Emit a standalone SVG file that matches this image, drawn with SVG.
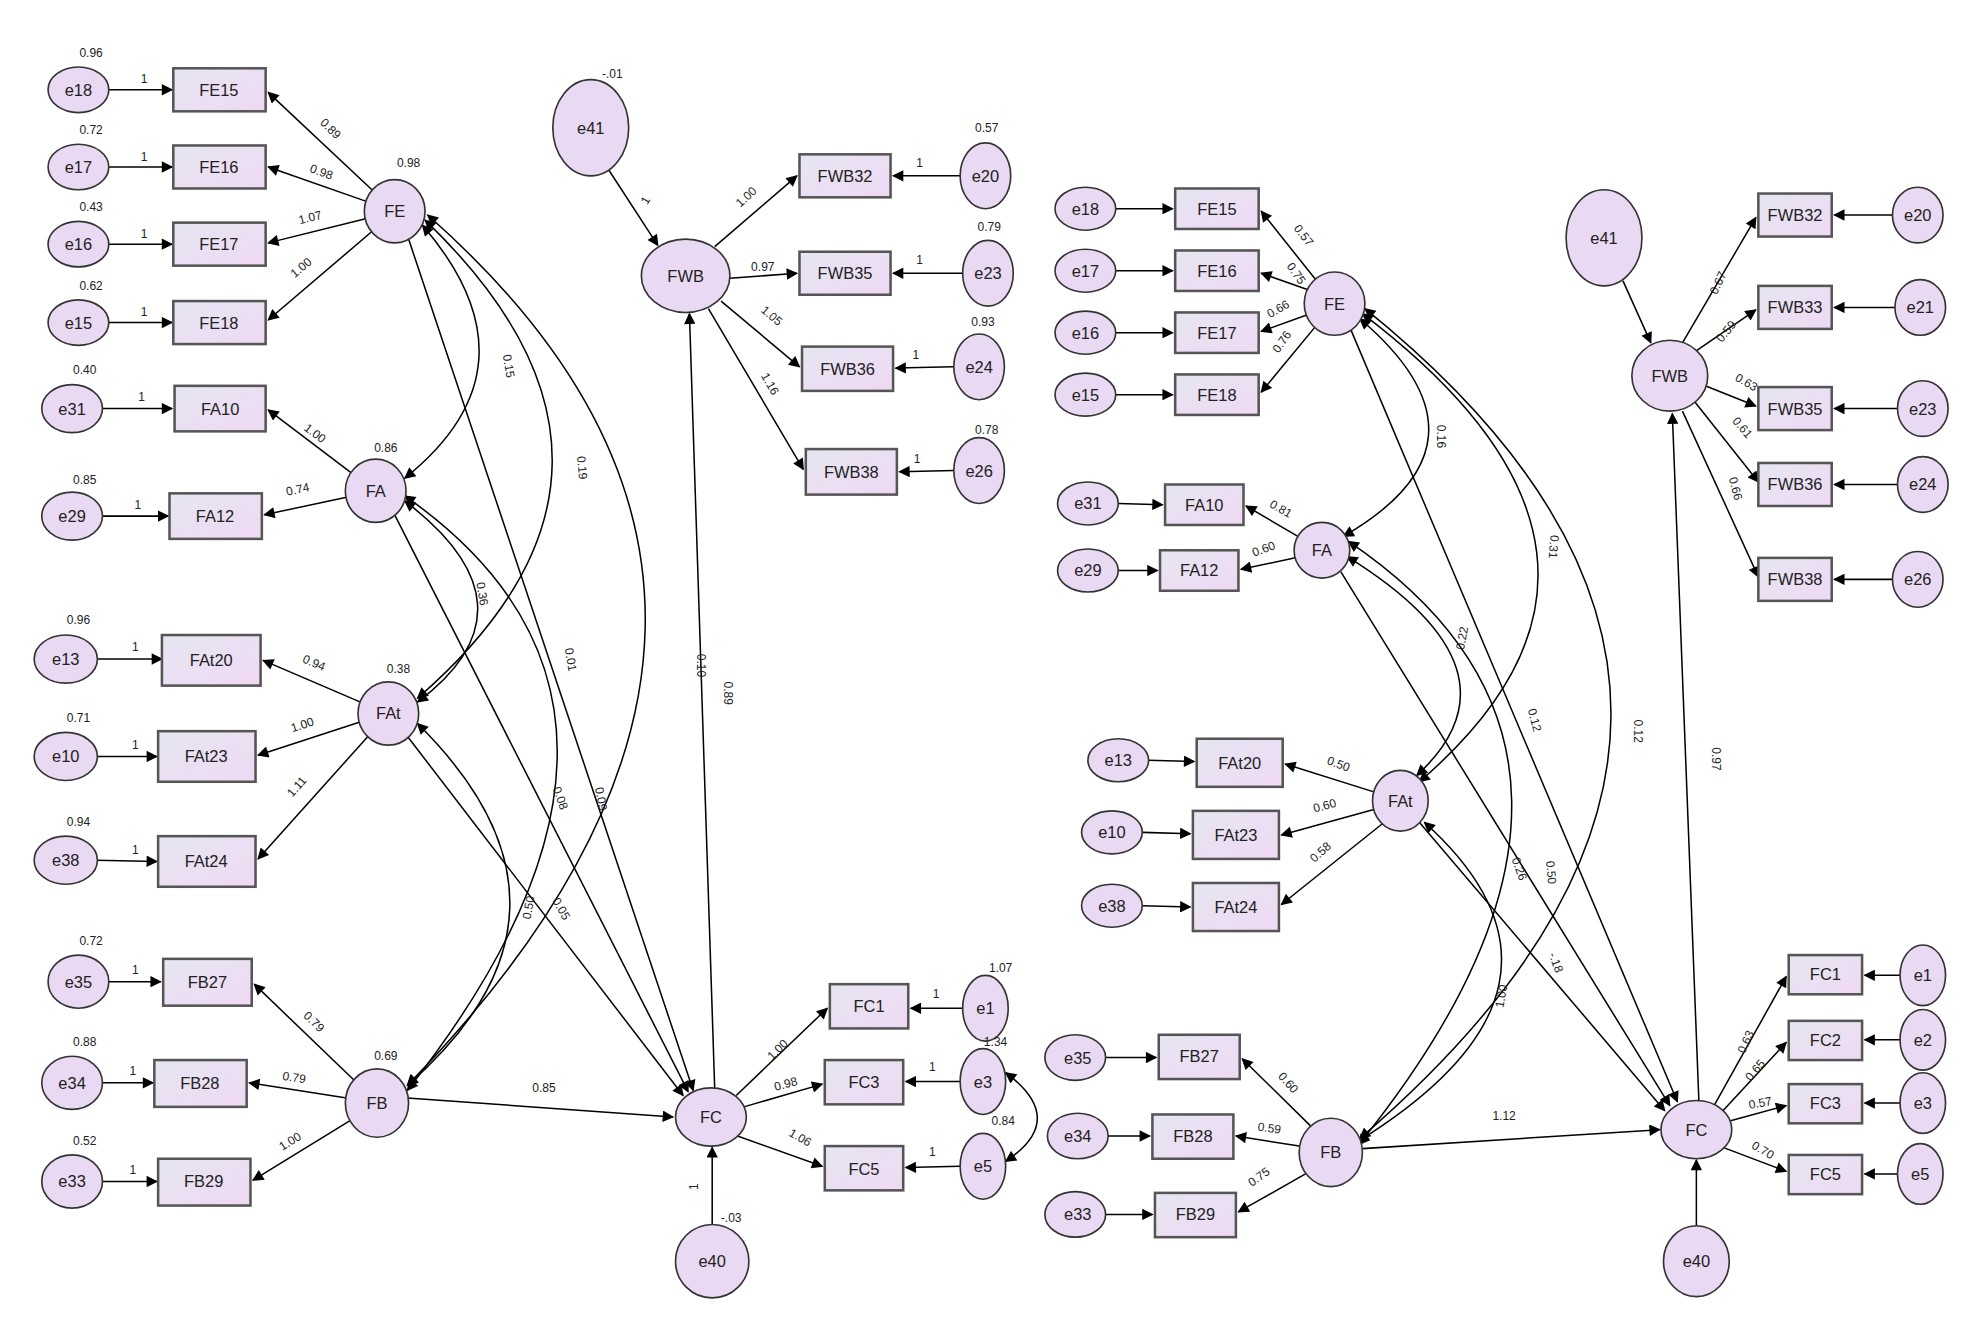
<svg xmlns="http://www.w3.org/2000/svg" width="1973" height="1325" viewBox="0 0 1973 1325">
<defs>
<marker id="ah" viewBox="0 0 10 10" refX="9" refY="5" markerWidth="11" markerHeight="9" markerUnits="userSpaceOnUse" orient="auto-start-reverse"><path d="M0,0 L10,5 L0,10 z" fill="#000"/></marker>
<linearGradient id="rg" x1="0" y1="0" x2="1" y2="1"><stop offset="0" stop-color="#e6e6f2"/><stop offset="1" stop-color="#efd9f3"/></linearGradient>
</defs>
<style>
.n ellipse{fill:#ead9f2;stroke:#333;stroke-width:1.3}
.n rect{fill:url(#rg);stroke:#555;stroke-width:2}
.n text{font-family:"Liberation Sans",Arial,sans-serif;font-size:13px;text-anchor:middle;dominant-baseline:central;fill:#222}
.c line,.c path{stroke:#000;stroke-width:1.2;fill:none;marker-end:url(#ah)}
.c .d{marker-start:url(#ah)}
.l{font-family:"Liberation Sans",Arial,sans-serif;font-size:9.5px;fill:#222;text-anchor:middle}
</style>
<rect width="1973" height="1325" fill="#fff"/>
<g transform="scale(1.265)">
<g class="c" id="connectors">
<!-- LEFT -->
<line x1="86" y1="71" x2="136" y2="71"/><line x1="86" y1="132" x2="136" y2="132"/><line x1="86" y1="193" x2="136" y2="193"/><line x1="86" y1="255" x2="136" y2="255"/>
<line x1="81" y1="323" x2="136" y2="323"/><line x1="81" y1="408" x2="133" y2="408"/>
<line x1="76" y1="521" x2="128" y2="521"/><line x1="76" y1="598" x2="124" y2="598"/><line x1="76" y1="680" x2="124" y2="681"/>
<line x1="86" y1="776" x2="127" y2="776"/><line x1="81" y1="856" x2="121" y2="856"/><line x1="81" y1="934" x2="124" y2="934"/>
<line x1="294" y1="150" x2="212" y2="73"/><line x1="289" y1="159" x2="212" y2="132"/><line x1="289" y1="173" x2="212" y2="192"/><line x1="294" y1="183" x2="212" y2="253"/>
<line x1="278" y1="374" x2="212" y2="324"/><line x1="274" y1="393" x2="209" y2="407"/>
<line x1="285" y1="555" x2="208" y2="522"/><line x1="284" y1="571" x2="204" y2="597"/><line x1="291" y1="582" x2="204" y2="679"/>
<line x1="281" y1="855" x2="201" y2="778"/><line x1="274" y1="868" x2="197" y2="856"/><line x1="278" y1="885" x2="200" y2="933"/>
<line x1="565" y1="195" x2="630" y2="139"/><line x1="577" y1="220" x2="630" y2="216"/><line x1="570" y1="238" x2="632" y2="290"/><line x1="560" y1="244" x2="635" y2="371"/>
<line x1="759" y1="139" x2="706" y2="139"/><line x1="761" y1="216" x2="706" y2="216"/><line x1="754" y1="290" x2="708" y2="291"/><line x1="754" y1="372" x2="711" y2="373"/>
<line x1="481" y1="134" x2="520" y2="194"/>
<line x1="582" y1="866" x2="654" y2="797"/><line x1="588" y1="875" x2="650" y2="857"/><line x1="583" y1="898" x2="650" y2="922"/>
<line x1="761" y1="797" x2="720" y2="797"/><line x1="759" y1="855" x2="716" y2="855"/><line x1="759" y1="922" x2="716" y2="923"/>
<line x1="563" y1="968" x2="563" y2="907"/>
<line x1="565" y1="861" x2="545" y2="248"/>
<line x1="322" y1="868" x2="532" y2="883"/>
<line x1="323" y1="189" x2="548" y2="862"/>
<line x1="312" y1="407" x2="544" y2="863"/>
<line x1="322" y1="582" x2="540" y2="866"/>
<path class="d" d="M795,848 Q845,885 795,918"/>
<path class="d" d="M334,178 Q430,290 320,378"/>
<path class="d" d="M336,174 Q540,370 330,552"/>
<path class="d" d="M338,170 Q690,480 322,858"/>
<path class="d" d="M320,396 Q430,480 330,555"/>
<path class="d" d="M320,392 Q560,560 322,862"/>
<path class="d" d="M330,572 Q480,720 322,858"/>
<!-- RIGHT -->
<line x1="882" y1="165" x2="927" y2="165"/><line x1="882" y1="214" x2="927" y2="214"/><line x1="882" y1="263" x2="927" y2="263"/><line x1="882" y1="312" x2="927" y2="312"/>
<line x1="884" y1="398" x2="919" y2="399"/><line x1="884" y1="451" x2="915" y2="451"/>
<line x1="908" y1="601" x2="944" y2="602"/><line x1="903" y1="658" x2="941" y2="659"/><line x1="903" y1="716" x2="941" y2="717"/>
<line x1="874" y1="836" x2="914" y2="836"/><line x1="876" y1="898" x2="909" y2="898"/><line x1="874" y1="960" x2="911" y2="960"/>
<line x1="1040" y1="221" x2="997" y2="167"/><line x1="1034" y1="229" x2="997" y2="216"/><line x1="1033" y1="249" x2="997" y2="262"/><line x1="1040" y1="258" x2="997" y2="310"/>
<line x1="1026" y1="424" x2="985" y2="400"/><line x1="1024" y1="441" x2="981" y2="450"/>
<line x1="1086" y1="626" x2="1016" y2="604"/><line x1="1086" y1="640" x2="1013" y2="660"/><line x1="1093" y1="651" x2="1013" y2="715"/>
<line x1="1036" y1="890" x2="982" y2="837"/><line x1="1027" y1="906" x2="977" y2="898"/><line x1="1032" y1="928" x2="979" y2="958"/>
<line x1="1077" y1="908" x2="1312" y2="893"/>
<line x1="1341" y1="969" x2="1341" y2="917"/>
<line x1="1355" y1="874" x2="1412" y2="772"/><line x1="1362" y1="878" x2="1412" y2="824"/><line x1="1368" y1="886" x2="1412" y2="874"/><line x1="1362" y1="907" x2="1412" y2="926"/>
<line x1="1502" y1="771" x2="1474" y2="771"/><line x1="1502" y1="822" x2="1474" y2="822"/><line x1="1502" y1="872" x2="1474" y2="872"/><line x1="1500" y1="928" x2="1474" y2="928"/>
<line x1="1343" y1="871" x2="1322" y2="327"/>
<line x1="1283" y1="222" x2="1305" y2="271"/>
<line x1="1330" y1="271" x2="1388" y2="172"/><line x1="1340" y1="278" x2="1388" y2="245"/><line x1="1348" y1="305" x2="1388" y2="321"/><line x1="1340" y1="318" x2="1390" y2="381"/><line x1="1330" y1="325" x2="1390" y2="456"/>
<line x1="1496" y1="170" x2="1450" y2="170"/><line x1="1498" y1="243" x2="1450" y2="243"/><line x1="1500" y1="323" x2="1450" y2="323"/><line x1="1500" y1="383" x2="1450" y2="383"/><line x1="1496" y1="458" x2="1450" y2="458"/>
<line x1="1068" y1="261" x2="1326" y2="871"/>
<line x1="1060" y1="452" x2="1320" y2="874"/>
<line x1="1122" y1="650" x2="1316" y2="878"/>
<path class="d" d="M1075,252 Q1190,350 1062,424"/>
<path class="d" d="M1077,248 Q1330,440 1122,618"/>
<path class="d" d="M1079,244 Q1470,560 1075,900"/>
<path class="d" d="M1065,440 Q1210,530 1120,613"/>
<path class="d" d="M1066,428 Q1320,600 1074,905"/>
<path class="d" d="M1126,650 Q1270,780 1074,902"/>
</g>
<!-- LEFT NODES -->
<g class="n" id="L_e18"><ellipse cx="62" cy="71" rx="24" ry="18"/><text x="62" y="71">e18</text></g>
<g class="n" id="L_e17"><ellipse cx="62" cy="132" rx="24" ry="18"/><text x="62" y="132">e17</text></g>
<g class="n" id="L_e16"><ellipse cx="62" cy="193" rx="24" ry="18"/><text x="62" y="193">e16</text></g>
<g class="n" id="L_e15"><ellipse cx="62" cy="255" rx="24" ry="18"/><text x="62" y="255">e15</text></g>
<g class="n" id="L_e31"><ellipse cx="57" cy="323" rx="24" ry="19"/><text x="57" y="323">e31</text></g>
<g class="n" id="L_e29"><ellipse cx="57" cy="408" rx="24" ry="19"/><text x="57" y="408">e29</text></g>
<g class="n" id="L_e13"><ellipse cx="52" cy="521" rx="25" ry="19"/><text x="52" y="521">e13</text></g>
<g class="n" id="L_e10"><ellipse cx="52" cy="598" rx="25" ry="19"/><text x="52" y="598">e10</text></g>
<g class="n" id="L_e38"><ellipse cx="52" cy="680" rx="25" ry="19"/><text x="52" y="680">e38</text></g>
<g class="n" id="L_e35"><ellipse cx="62" cy="776" rx="24" ry="21"/><text x="62" y="776">e35</text></g>
<g class="n" id="L_e34"><ellipse cx="57" cy="856" rx="24" ry="21"/><text x="57" y="856">e34</text></g>
<g class="n" id="L_e33"><ellipse cx="57" cy="934" rx="24" ry="21"/><text x="57" y="934">e33</text></g>
<g class="n" id="L_FE15"><rect x="137" y="54" width="73" height="34"/><text x="173" y="71">FE15</text></g>
<g class="n" id="L_FE16"><rect x="137" y="115" width="73" height="34"/><text x="173" y="132">FE16</text></g>
<g class="n" id="L_FE17"><rect x="137" y="176" width="73" height="34"/><text x="173" y="193">FE17</text></g>
<g class="n" id="L_FE18"><rect x="137" y="238" width="73" height="34"/><text x="173" y="255">FE18</text></g>
<g class="n" id="L_FA10"><rect x="138" y="305" width="72" height="36"/><text x="174" y="323">FA10</text></g>
<g class="n" id="L_FA12"><rect x="134" y="390" width="73" height="36"/><text x="170" y="408">FA12</text></g>
<g class="n" id="L_FAt20"><rect x="128" y="502" width="78" height="40"/><text x="167" y="522">FAt20</text></g>
<g class="n" id="L_FAt23"><rect x="125" y="578" width="77" height="40"/><text x="163" y="598">FAt23</text></g>
<g class="n" id="L_FAt24"><rect x="125" y="661" width="77" height="40"/><text x="163" y="681">FAt24</text></g>
<g class="n" id="L_FB27"><rect x="129" y="758" width="70" height="37"/><text x="164" y="776">FB27</text></g>
<g class="n" id="L_FB28"><rect x="122" y="838" width="73" height="37"/><text x="158" y="856">FB28</text></g>
<g class="n" id="L_FB29"><rect x="125" y="916" width="73" height="37"/><text x="161" y="934">FB29</text></g>
<g class="n" id="L_FE"><ellipse cx="312" cy="167" rx="24" ry="25"/><text x="312" y="167">FE</text></g>
<g class="n" id="L_FA"><ellipse cx="297" cy="388" rx="24" ry="25"/><text x="297" y="388">FA</text></g>
<g class="n" id="L_FAt"><ellipse cx="307" cy="564" rx="24" ry="25"/><text x="307" y="564">FAt</text></g>
<g class="n" id="L_FB"><ellipse cx="298" cy="872" rx="25" ry="27"/><text x="298" y="872">FB</text></g>
<g class="n" id="L_e41"><ellipse cx="467" cy="101" rx="30" ry="38"/><text x="467" y="101">e41</text></g>
<g class="n" id="L_FWB"><ellipse cx="542" cy="218" rx="35" ry="29"/><text x="542" y="218">FWB</text></g>
<g class="n" id="L_FWB32"><rect x="632" y="122" width="72" height="34"/><text x="668" y="139">FWB32</text></g>
<g class="n" id="L_FWB35"><rect x="632" y="199" width="72" height="34"/><text x="668" y="216">FWB35</text></g>
<g class="n" id="L_FWB36"><rect x="634" y="274" width="72" height="35"/><text x="670" y="292">FWB36</text></g>
<g class="n" id="L_FWB38"><rect x="637" y="355" width="72" height="36"/><text x="673" y="373">FWB38</text></g>
<g class="n" id="L_e20"><ellipse cx="779" cy="139" rx="20" ry="26"/><text x="779" y="139">e20</text></g>
<g class="n" id="L_e23"><ellipse cx="781" cy="216" rx="20" ry="26"/><text x="781" y="216">e23</text></g>
<g class="n" id="L_e24"><ellipse cx="774" cy="290" rx="20" ry="26"/><text x="774" y="290">e24</text></g>
<g class="n" id="L_e26"><ellipse cx="774" cy="372" rx="20" ry="26"/><text x="774" y="372">e26</text></g>
<g class="n" id="L_FC"><ellipse cx="562" cy="883" rx="28" ry="23"/><text x="562" y="883">FC</text></g>
<g class="n" id="L_e40"><ellipse cx="563" cy="997" rx="29" ry="29"/><text x="563" y="997">e40</text></g>
<g class="n" id="L_FC1"><rect x="656" y="778" width="62" height="35"/><text x="687" y="795">FC1</text></g>
<g class="n" id="L_FC3"><rect x="652" y="838" width="62" height="35"/><text x="683" y="855">FC3</text></g>
<g class="n" id="L_FC5"><rect x="652" y="906" width="62" height="35"/><text x="683" y="924">FC5</text></g>
<g class="n" id="L_e1"><ellipse cx="779" cy="797" rx="18" ry="26"/><text x="779" y="797">e1</text></g>
<g class="n" id="L_e3"><ellipse cx="777" cy="855" rx="18" ry="26"/><text x="777" y="855">e3</text></g>
<g class="n" id="L_e5"><ellipse cx="777" cy="922" rx="18" ry="26"/><text x="777" y="922">e5</text></g>
<!-- RIGHT NODES -->
<g class="n" id="R_e18"><ellipse cx="858" cy="165" rx="24" ry="17"/><text x="858" y="165">e18</text></g>
<g class="n" id="R_e17"><ellipse cx="858" cy="214" rx="24" ry="17"/><text x="858" y="214">e17</text></g>
<g class="n" id="R_e16"><ellipse cx="858" cy="263" rx="24" ry="17"/><text x="858" y="263">e16</text></g>
<g class="n" id="R_e15"><ellipse cx="858" cy="312" rx="24" ry="17"/><text x="858" y="312">e15</text></g>
<g class="n" id="R_e31"><ellipse cx="860" cy="398" rx="24" ry="17"/><text x="860" y="398">e31</text></g>
<g class="n" id="R_e29"><ellipse cx="860" cy="451" rx="24" ry="17"/><text x="860" y="451">e29</text></g>
<g class="n" id="R_e13"><ellipse cx="884" cy="601" rx="24" ry="17"/><text x="884" y="601">e13</text></g>
<g class="n" id="R_e10"><ellipse cx="879" cy="658" rx="24" ry="17"/><text x="879" y="658">e10</text></g>
<g class="n" id="R_e38"><ellipse cx="879" cy="716" rx="24" ry="17"/><text x="879" y="716">e38</text></g>
<g class="n" id="R_e35"><ellipse cx="850" cy="836" rx="24" ry="18"/><text x="852" y="836">e35</text></g>
<g class="n" id="R_e34"><ellipse cx="852" cy="898" rx="24" ry="18"/><text x="852" y="898">e34</text></g>
<g class="n" id="R_e33"><ellipse cx="850" cy="960" rx="24" ry="18"/><text x="852" y="960">e33</text></g>
<g class="n" id="R_FE15"><rect x="929" y="149" width="66" height="32"/><text x="962" y="165">FE15</text></g>
<g class="n" id="R_FE16"><rect x="929" y="198" width="66" height="32"/><text x="962" y="214">FE16</text></g>
<g class="n" id="R_FE17"><rect x="929" y="247" width="66" height="32"/><text x="962" y="263">FE17</text></g>
<g class="n" id="R_FE18"><rect x="929" y="296" width="66" height="32"/><text x="962" y="312">FE18</text></g>
<g class="n" id="R_FA10"><rect x="921" y="383" width="62" height="32"/><text x="952" y="399">FA10</text></g>
<g class="n" id="R_FA12"><rect x="917" y="435" width="62" height="32"/><text x="948" y="451">FA12</text></g>
<g class="n" id="R_FAt20"><rect x="946" y="584" width="68" height="38"/><text x="980" y="603">FAt20</text></g>
<g class="n" id="R_FAt23"><rect x="943" y="641" width="68" height="38"/><text x="977" y="660">FAt23</text></g>
<g class="n" id="R_FAt24"><rect x="943" y="698" width="68" height="38"/><text x="977" y="717">FAt24</text></g>
<g class="n" id="R_FB27"><rect x="916" y="818" width="64" height="35"/><text x="948" y="835">FB27</text></g>
<g class="n" id="R_FB28"><rect x="911" y="881" width="64" height="35"/><text x="943" y="898">FB28</text></g>
<g class="n" id="R_FB29"><rect x="913" y="943" width="64" height="35"/><text x="945" y="960">FB29</text></g>
<g class="n" id="R_FE"><ellipse cx="1055" cy="240" rx="24" ry="25"/><text x="1055" y="240">FE</text></g>
<g class="n" id="R_FA"><ellipse cx="1045" cy="435" rx="22" ry="22"/><text x="1045" y="435">FA</text></g>
<g class="n" id="R_FAt"><ellipse cx="1107" cy="633" rx="22" ry="24"/><text x="1107" y="633">FAt</text></g>
<g class="n" id="R_FB"><ellipse cx="1052" cy="911" rx="25" ry="27"/><text x="1052" y="911">FB</text></g>
<g class="n" id="R_e41"><ellipse cx="1268" cy="188" rx="30" ry="38"/><text x="1268" y="188">e41</text></g>
<g class="n" id="R_FWB"><ellipse cx="1320" cy="297" rx="30" ry="28"/><text x="1320" y="297">FWB</text></g>
<g class="n" id="R_FWB32"><rect x="1390" y="153" width="58" height="34"/><text x="1419" y="170">FWB32</text></g>
<g class="n" id="R_FWB33"><rect x="1390" y="226" width="58" height="34"/><text x="1419" y="243">FWB33</text></g>
<g class="n" id="R_FWB35"><rect x="1390" y="306" width="58" height="34"/><text x="1419" y="323">FWB35</text></g>
<g class="n" id="R_FWB36"><rect x="1390" y="366" width="58" height="34"/><text x="1419" y="383">FWB36</text></g>
<g class="n" id="R_FWB38"><rect x="1390" y="441" width="58" height="34"/><text x="1419" y="458">FWB38</text></g>
<g class="n" id="R_e20"><ellipse cx="1516" cy="170" rx="20" ry="22"/><text x="1516" y="170">e20</text></g>
<g class="n" id="R_e21"><ellipse cx="1518" cy="243" rx="20" ry="22"/><text x="1518" y="243">e21</text></g>
<g class="n" id="R_e23"><ellipse cx="1520" cy="323" rx="20" ry="22"/><text x="1520" y="323">e23</text></g>
<g class="n" id="R_e24"><ellipse cx="1520" cy="383" rx="20" ry="22"/><text x="1520" y="383">e24</text></g>
<g class="n" id="R_e26"><ellipse cx="1516" cy="458" rx="20" ry="22"/><text x="1516" y="458">e26</text></g>
<g class="n" id="R_FC"><ellipse cx="1341" cy="893" rx="28" ry="23"/><text x="1341" y="893">FC</text></g>
<g class="n" id="R_e40"><ellipse cx="1341" cy="997" rx="26" ry="28"/><text x="1341" y="997">e40</text></g>
<g class="n" id="R_FC1"><rect x="1414" y="755" width="58" height="31"/><text x="1443" y="770">FC1</text></g>
<g class="n" id="R_FC2"><rect x="1414" y="807" width="58" height="31"/><text x="1443" y="822">FC2</text></g>
<g class="n" id="R_FC3"><rect x="1414" y="857" width="58" height="31"/><text x="1443" y="872">FC3</text></g>
<g class="n" id="R_FC5"><rect x="1414" y="913" width="58" height="31"/><text x="1443" y="928">FC5</text></g>
<g class="n" id="R_e1"><ellipse cx="1520" cy="771" rx="18" ry="24"/><text x="1520" y="771">e1</text></g>
<g class="n" id="R_e2"><ellipse cx="1520" cy="822" rx="18" ry="24"/><text x="1520" y="822">e2</text></g>
<g class="n" id="R_e3"><ellipse cx="1520" cy="872" rx="18" ry="24"/><text x="1520" y="872">e3</text></g>
<g class="n" id="R_e5"><ellipse cx="1518" cy="928" rx="18" ry="24"/><text x="1518" y="928">e5</text></g>
<g id="labels">
<!-- left variances -->
<text class="l" x="72" y="45">0.96</text><text class="l" x="72" y="106">0.72</text><text class="l" x="72" y="167">0.43</text><text class="l" x="72" y="229">0.62</text>
<text class="l" x="67" y="296">0.40</text><text class="l" x="67" y="383">0.85</text><text class="l" x="62" y="493">0.96</text><text class="l" x="62" y="571">0.71</text><text class="l" x="62" y="653">0.94</text>
<text class="l" x="72" y="747">0.72</text><text class="l" x="67" y="827">0.88</text><text class="l" x="67" y="905">0.52</text>
<text class="l" x="323" y="132">0.98</text><text class="l" x="305" y="357">0.86</text><text class="l" x="315" y="532">0.38</text><text class="l" x="305" y="838">0.69</text>
<text class="l" x="484" y="62">-.01</text><text class="l" x="780" y="104">0.57</text><text class="l" x="782" y="183">0.79</text><text class="l" x="777" y="258">0.93</text><text class="l" x="780" y="343">0.78</text>
<text class="l" x="791" y="768">1.07</text><text class="l" x="787" y="827">1.34</text><text class="l" x="793" y="889">0.84</text><text class="l" x="578" y="966">-.03</text>
<!-- left "1" -->
<text class="l" x="114" y="66">1</text><text class="l" x="114" y="127">1</text><text class="l" x="114" y="188">1</text><text class="l" x="114" y="250">1</text>
<text class="l" x="112" y="317">1</text><text class="l" x="109" y="402">1</text><text class="l" x="107" y="515">1</text><text class="l" x="107" y="592">1</text><text class="l" x="107" y="675">1</text>
<text class="l" x="107" y="770">1</text><text class="l" x="105" y="850">1</text><text class="l" x="105" y="928">1</text>
<text class="l" x="727" y="132">1</text><text class="l" x="727" y="209">1</text><text class="l" x="724" y="284">1</text><text class="l" x="725" y="366">1</text>
<text class="l" x="740" y="789">1</text><text class="l" x="737" y="847">1</text><text class="l" x="737" y="914">1</text>
<text class="l" transform="translate(513,160) rotate(-60)">1</text><text class="l" transform="translate(552,938) rotate(-90)">1</text>
<!-- left loadings -->
<text class="l" transform="translate(259,104) rotate(45)">0.89</text><text class="l" transform="translate(253,139) rotate(20)">0.98</text><text class="l" transform="translate(246,175) rotate(-14)">1.07</text><text class="l" transform="translate(240,214) rotate(-40)">1.00</text>
<text class="l" transform="translate(247,345) rotate(37)">1.00</text><text class="l" transform="translate(236,390) rotate(-12)">0.74</text>
<text class="l" transform="translate(247,527) rotate(23)">0.94</text><text class="l" transform="translate(240,576) rotate(-18)">1.00</text><text class="l" transform="translate(237,624) rotate(-48)">1.11</text>
<text class="l" transform="translate(246,810) rotate(44)">0.79</text><text class="l" transform="translate(232,855) rotate(9)">0.79</text><text class="l" transform="translate(231,905) rotate(-32)">1.00</text>
<text class="l" transform="translate(592,158) rotate(-42)">1.00</text><text class="l" transform="translate(603,214)">0.97</text><text class="l" transform="translate(608,252) rotate(40)">1.05</text><text class="l" transform="translate(606,305) rotate(60)">1.16</text>
<text class="l" transform="translate(617,832) rotate(-45)">1.00</text><text class="l" transform="translate(622,860) rotate(-15)">0.98</text><text class="l" transform="translate(631,902) rotate(30)">1.06</text>
<text class="l" x="430" y="863">0.85</text>
<text class="l" transform="translate(572,548) rotate(90)">0.89</text>
<text class="l" transform="translate(551,526) rotate(90)">0.10</text>
<text class="l" transform="translate(399,290) rotate(80)">0.15</text>
<text class="l" transform="translate(457,370) rotate(85)">0.19</text>
<text class="l" transform="translate(378,470) rotate(80)">0.36</text>
<text class="l" transform="translate(448,522) rotate(80)">0.01</text>
<text class="l" transform="translate(440,632) rotate(70)">0.08</text>
<text class="l" transform="translate(472,632) rotate(80)">0.09</text>
<text class="l" transform="translate(421,718) rotate(-80)">0.50</text>
<text class="l" transform="translate(441,720) rotate(60)">0.05</text>
<!-- right loadings -->
<text class="l" transform="translate(1028,188) rotate(52)">0.57</text><text class="l" transform="translate(1022,218) rotate(55)">0.75</text><text class="l" transform="translate(1012,247) rotate(-30)">0.66</text><text class="l" transform="translate(1016,272) rotate(-55)">0.76</text>
<text class="l" transform="translate(1011,405) rotate(30)">0.81</text><text class="l" transform="translate(1000,437) rotate(-20)">0.60</text>
<text class="l" transform="translate(1057,607) rotate(20)">0.50</text><text class="l" transform="translate(1048,640) rotate(-15)">0.60</text><text class="l" transform="translate(1046,676) rotate(-42)">0.58</text>
<text class="l" transform="translate(1016,858) rotate(48)">0.60</text><text class="l" transform="translate(1003,895) rotate(8)">0.59</text><text class="l" transform="translate(997,933) rotate(-35)">0.75</text>
<text class="l" x="1189" y="885">1.12</text>
<text class="l" transform="translate(1353,600) rotate(90)">0.97</text>
<text class="l" transform="translate(1361,225) rotate(-65)">0.67</text><text class="l" transform="translate(1367,264) rotate(-50)">0.59</text><text class="l" transform="translate(1379,305) rotate(30)">0.63</text><text class="l" transform="translate(1375,340) rotate(50)">0.61</text><text class="l" transform="translate(1369,387) rotate(75)">0.66</text>
<text class="l" transform="translate(1383,825) rotate(-65)">0.63</text><text class="l" transform="translate(1390,848) rotate(-50)">0.65</text><text class="l" transform="translate(1392,875) rotate(-10)">0.57</text><text class="l" transform="translate(1392,912) rotate(30)">0.70</text>
<text class="l" transform="translate(1136,345) rotate(90)">0.16</text>
<text class="l" transform="translate(1225,432) rotate(95)">0.31</text>
<text class="l" transform="translate(1159,505) rotate(-80)">0.22</text>
<text class="l" transform="translate(1210,570) rotate(75)">0.12</text>
<text class="l" transform="translate(1292,578) rotate(90)">0.12</text>
<text class="l" transform="translate(1198,688) rotate(70)">0.26</text>
<text class="l" transform="translate(1223,690) rotate(85)">0.50</text>
<text class="l" transform="translate(1227,762) rotate(70)">-.18</text>
<text class="l" transform="translate(1190,788) rotate(-80)">1.00</text>
</g>
</g>
</svg>
